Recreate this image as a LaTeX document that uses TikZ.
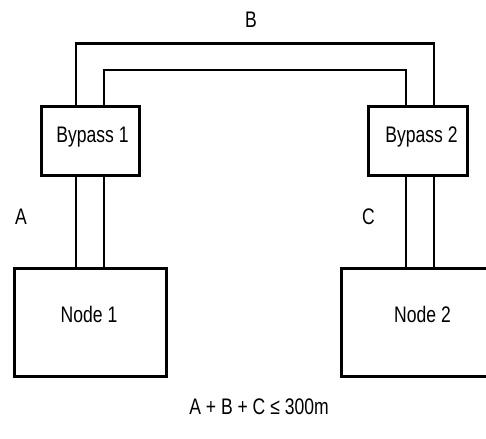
\documentclass[tikz,border=0pt]{standalone}
\usepackage{fontspec}
\setmainfont[FakeStretch=0.78]{Liberation Sans}
\begin{document}
\begin{tikzpicture}[x=1pt,y=-1pt,
  box/.style={draw,line width=2.6pt,rectangle,inner sep=0pt},
  wire/.style={line width=2.6pt},
  txt/.style={inner sep=0pt,anchor=base,font=\fontsize{22.5}{26}\selectfont}]
\useasboundingbox (0,0) rectangle (486,438);
\clip (0,0) rectangle (486,438);
% boxes
\node[box,minimum width=98.5pt,minimum height=69.5pt] (b1) at (90.5,141) {};
\node[box,minimum width=98.5pt,minimum height=69.5pt] (b2) at (418,141) {};
\node[box,minimum width=152.5pt,minimum height=108.5pt] (n1) at (90.5,322.5) {};
\node[box,minimum width=165pt,minimum height=108.5pt] (n2) at (423.7,322.5) {};
% texts
\node[txt] (tb1) at (92.5,142.5) {Bypass 1};
\node[txt] (tb2) at (421.5,142.5) {Bypass 2};
\node[txt] (tn1) at (89,322) {Node 1};
\node[txt] (tn2) at (422.5,322) {Node 2};
\node[txt] (lB) at (251,28) {B};
\node[txt] (lA) at (21,224) {A};
\node[txt] (lC) at (368.5,224) {C};
\node[txt] (eq) at (259,414) {A + B + C ≤ 300m};
% guide coordinates
\coordinate (xo1) at (76,0);
\coordinate (xi1) at (104,0);
\coordinate (xi2) at (406,0);
\coordinate (xo2) at (434,0);
\coordinate (yo) at (0,43.3);
\coordinate (yi) at (0,70);
% B cable
\draw[wire] (xo1 |- b1.north) -- (xo1 |- yo) -- (xo2 |- yo) -- (xo2 |- b2.north);
\draw[wire] (xi1 |- b1.north) -- (xi1 |- yi) -- (xi2 |- yi) -- (xi2 |- b2.north);
% A cable
\draw[wire] (xo1 |- b1.south) -- (xo1 |- n1.north);
\draw[wire] (xi1 |- b1.south) -- (xi1 |- n1.north);
% C cable
\draw[wire] (xi2 |- b2.south) -- (xi2 |- n2.north);
\draw[wire] (xo2 |- b2.south) -- (xo2 |- n2.north);
\end{tikzpicture}
\end{document}
